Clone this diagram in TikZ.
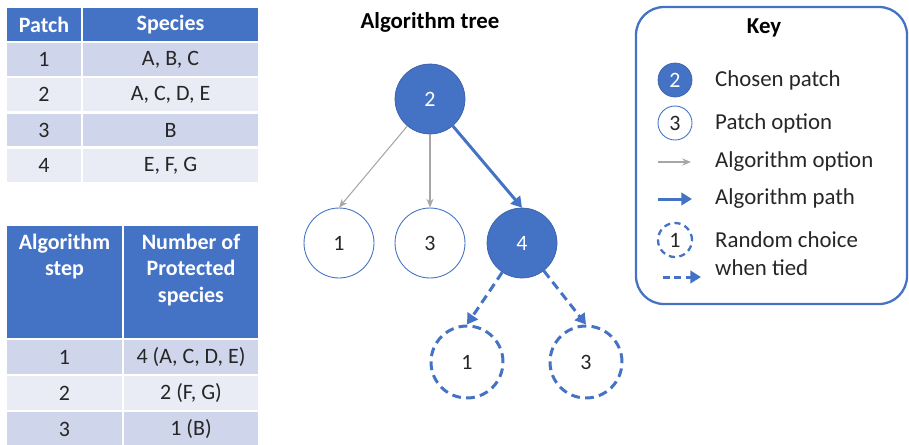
\documentclass[tikz,border=0pt]{standalone}
\usepackage{fontspec}
\setmainfont{Carlito}
\usetikzlibrary{arrows.meta}

\definecolor{hdblue}{HTML}{4472C4}
\definecolor{rowdark}{HTML}{CFD5EA}
\definecolor{rowlight}{HTML}{E9EBF5}
\definecolor{optgray}{HTML}{A6A6A6}
\definecolor{txt}{HTML}{262626}

\tikzset{
  cell/.style={rectangle, draw=white, line width=1.2pt, inner sep=0pt, minimum height=0.7cm, text=txt, font=\fontsize{12.5}{15}\selectfont},
  head/.style={cell, fill=hdblue, text=white, font=\bfseries\fontsize{12.5}{15.3}\selectfont},
  chosen/.style={circle, fill=hdblue, draw=hdblue!85!black, text=white, minimum size=1.4cm, font=\fontsize{12.5}{14}\selectfont},
  patchopt/.style={circle, draw=hdblue, line width=0.5pt, text=txt, minimum size=1.4cm, font=\fontsize{12.5}{14}\selectfont},
  tied/.style={circle, draw=hdblue, line width=1.7pt, dash pattern=on 5pt off 3pt, text=txt, minimum size=1.44cm, font=\fontsize{12.5}{14}\selectfont},
  optarrow/.style={-{Stealth[length=5pt,width=4pt]}, optgray, line width=0.6pt},
  patharrow/.style={-{Triangle[length=6pt,width=7pt]}, hdblue, line width=1.7pt},
  tiedarrow/.style={patharrow, dash pattern=on 5pt off 3pt},
  keytext/.style={anchor=west, text=txt, font=\fontsize{13}{16}\selectfont, align=left},
}

\begin{document}
\begin{tikzpicture}[x=0.02cm, y=-0.02cm]
    \useasboundingbox (0,0) rectangle (909,444);

    % patch table
    \node[head, minimum width=1.52cm] (ph1) at (44,24.5) {Patch};
    \node[head, minimum width=3.54cm] (ph2) at (170.5,24.5) {Species};
    \node[cell, fill=rowdark, minimum width=1.52cm] (p1a) at (44,59.5) {1};
    \node[cell, fill=rowdark, minimum width=3.54cm] (p1b) at (170.5,59.5) {A, B, C};
    \node[cell, fill=rowlight, minimum width=1.52cm] (p2a) at (44,94.5) {2};
    \node[cell, fill=rowlight, minimum width=3.54cm] (p2b) at (170.5,94.5) {A, C, D, E};
    \node[cell, fill=rowdark, minimum width=1.52cm] (p3a) at (44,130) {3};
    \node[cell, fill=rowdark, minimum width=3.54cm] (p3b) at (170.5,130) {B};
    \node[cell, fill=rowlight, minimum width=1.52cm] (p4a) at (44,165.5) {4};
    \node[cell, fill=rowlight, minimum width=3.54cm] (p4b) at (170.5,165.5) {E, F, G};

    % step table
    \node[head, minimum width=2.34cm, minimum height=2.28cm] (sh1) at (64.5,282) {};
    \node[head, minimum width=2.72cm, minimum height=2.28cm] (sh2) at (191,282) {};
    \node[text=white, align=center, font=\bfseries\fontsize{12.5}{15.3}\selectfont] (sh1t) at (64.5,256.5) {Algorithm\\step};
    \node[text=white, align=center, font=\bfseries\fontsize{12.5}{15.3}\selectfont] (sh2t) at (191,270) {Number of\\Protected\\species};
    \node[cell, fill=rowdark, minimum width=2.34cm, minimum height=0.72cm] (s1a) at (64.5,357) {1};
    \node[cell, fill=rowdark, minimum width=2.72cm, minimum height=0.72cm] (s1b) at (191,357) {4 (A, C, D, E)};
    \node[cell, fill=rowlight, minimum width=2.34cm, minimum height=0.72cm] (s2a) at (64.5,393) {2};
    \node[cell, fill=rowlight, minimum width=2.72cm, minimum height=0.72cm] (s2b) at (191,393) {2 (F, G)};
    \node[cell, fill=rowdark, minimum width=2.34cm, minimum height=0.72cm] (s3a) at (64.5,429) {3};
    \node[cell, fill=rowdark, minimum width=2.72cm, minimum height=0.72cm] (s3b) at (191,429) {1 (B)};

    % tree
    \node[font=\bfseries\fontsize{13}{16}\selectfont] (title) at (430,22) {Algorithm tree};
    \node[chosen] (t2) at (430,99) {2};
    \node[patchopt] (t1) at (339,243) {1};
    \node[patchopt] (t3) at (430,243) {3};
    \node[chosen] (t4) at (522,243) {4};
    \node[tied] (d1) at (467,362) {1};
    \node[tied] (d3) at (586,362) {3};

    \draw[optarrow] (t2) -- (t1.north);
    \draw[optarrow] (t2) -- (t3.north);
    \draw[patharrow] (t2) -- (t4.north);
    \draw[tiedarrow] (t4) -- (d1.north);
    \draw[tiedarrow] (t4) -- (d3.north);

    % key
    \draw[hdblue, line width=1.3pt, rounded corners=0.56cm] (636,7) rectangle (907,304);
    \node[font=\bfseries\fontsize{13}{16}\selectfont] (key) at (764,28) {Key};
    \node[chosen, minimum size=0.68cm, inner sep=0pt] (k2) at (675,80) {2};
    \node[keytext] (k2t) at (709,80) {Chosen patch};
    \node[patchopt, minimum size=0.68cm, inner sep=0pt] (k3) at (675,123) {3};
    \node[keytext] (k3t) at (709,123) {Patch option};
    \coordinate (kos) at (658,162);
    \coordinate (koe) at (691,162);
    \draw[optarrow] (kos) -- (koe);
    \node[keytext] (kot) at (709,162) {Algorithm option};
    \coordinate (kps) at (658,199);
    \coordinate (kpe) at (692,199);
    \draw[patharrow] (kps) -- (kpe);
    \node[keytext] (kpt) at (709,199) {Algorithm path};
    \node[tied, minimum size=0.68cm, inner sep=0pt, line width=1.3pt, dash pattern=on 3.5pt off 2.5pt] (k1) at (675,240) {1};
    \coordinate (kds) at (663,277);
    \coordinate (kde) at (701,277);
    \draw[tiedarrow, dash pattern=on 4pt off 2.5pt] (kds) -- (kde);
    \node[keytext] (k1t) at (709,253.5) {Random choice\\when tied};

\end{tikzpicture}
\end{document}
